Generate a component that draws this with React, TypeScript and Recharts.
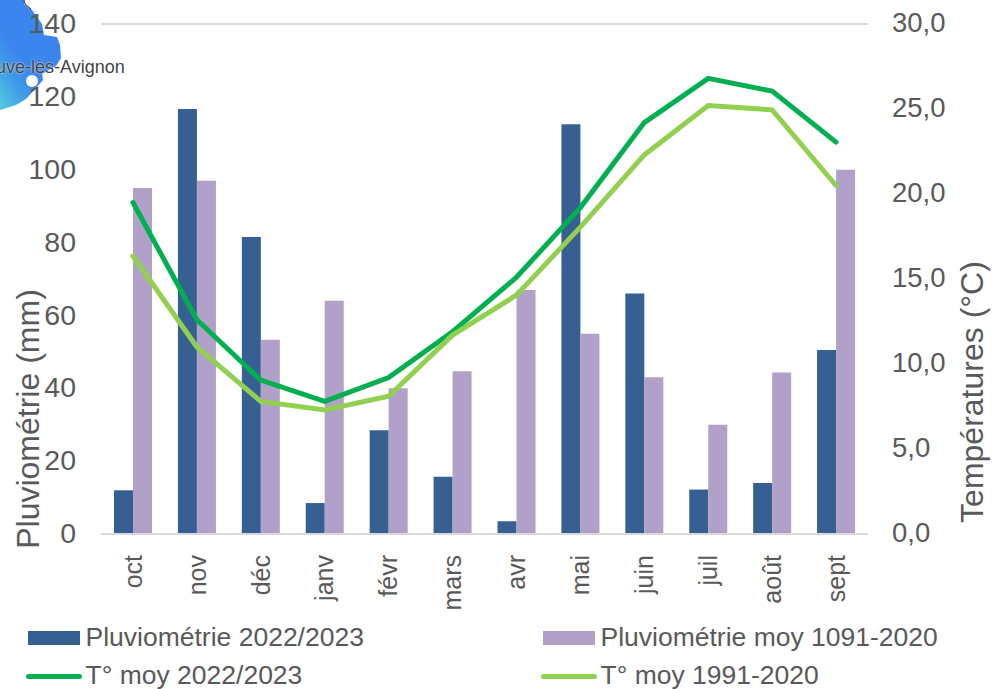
import React from 'react';
import { ComposedChart, Bar, Line, XAxis, YAxis, CartesianGrid, Legend, Label } from 'recharts';

const months = ['oct','nov','déc','janv','févr','mars','avr','mai','juin','juil','août','sept'];
const rain2223 = [12,116.7,81.5,8.5,28.5,15.7,3.5,112.5,66,12.2,14,50.5];
const rainAvg = [95,97,53.3,64,40,44.7,67,55,43,30,44.3,100];
const temp2223 = [19.5,12.6,9.05,7.8,9.2,11.9,15.1,19.2,24.2,26.8,26.05,23.05];
const tempAvg = [16.35,11,7.8,7.3,8.1,11.7,14.05,18.05,22.3,25.2,24.95,20.5];
const rainTicks = [0,20,40,60,80,100,120,140];
const tempTicks = [0,5,10,15,20,25,30];
const tempFormat = (v: number) => v.toFixed(1).replace('.', ',');

const names = ['Pluviométrie 2022/2023','Pluviométrie moy 1091-2020','T° moy 2022/2023','T° moy 1991-2020'];
const data = months.map((m, i) => ({ m, a: rain2223[i], b: rainAvg[i], c: temp2223[i], d: tempAvg[i] }));

const TXT = '#595959';
const FONT = '"Liberation Sans", Arial, sans-serif';
const C1 = '#376092', C2 = '#B1A0C7', C3 = '#00B050', C4 = '#92D050';

const LegendBox = () => {
  const items = [
    { x: 28, y: 637, c: C1, bar: true, n: names[0] },
    { x: 543, y: 637, c: C2, bar: true, n: names[1] },
    { x: 28, y: 675, c: C3, bar: false, n: names[2] },
    { x: 543, y: 675, c: C4, bar: false, n: names[3] },
  ];
  return (
    <div style={{ position: 'absolute', left: 0, top: 0, width: 992, height: 689, pointerEvents: 'none' }}>
      {items.map((it) => (
        <React.Fragment key={it.n}>
          <div style={{ position: 'absolute', left: it.bar ? it.x : it.x - 2, top: it.bar ? it.y - 6 : it.y - 1.5, width: it.bar ? 52 : 56, height: it.bar ? 14 : 5, background: it.c, borderRadius: it.bar ? 0 : 3 }} />
          <div style={{ position: 'absolute', left: it.x + 57.5, top: it.y - 13, height: 26, lineHeight: '26px', fontSize: 26.5, color: TXT, fontFamily: FONT, whiteSpace: 'nowrap' }}>{it.n}</div>
        </React.Fragment>
      ))}
    </div>
  );
};

export default function App() {
  return (
    <div style={{ position: 'absolute', left: 0, top: 0, width: 992, height: 689, overflow: 'hidden', background: '#fff' }}>
      <svg width={130} height={115} style={{ position: 'absolute', left: 0, top: 0 }}>
        <defs>
          <linearGradient id="blob" x1="0.75" y1="0.2" x2="0.1" y2="1">
            <stop offset="0.5" stopColor="#3A86EE" />
            <stop offset="0.72" stopColor="#3F9BE8" />
            <stop offset="1" stopColor="#4FC3E0" />
          </linearGradient>
        </defs>
        <path d="M0 0 L24 0 L24 4 L32 10 L37 17 L42 24 L44 35 L57 37 L60 45 L61 58 L56 66 L42 74 L43 80 L36 88 L26 99 L16 105 L0 110 Z" fill="url(#blob)" />
        <path d="M24 0 L25 4 L31 9" fill="none" stroke="#333" strokeWidth={1} />
        <circle cx={32} cy={81} r={6} fill="#fff" />
      </svg>
      <div style={{ position: 'absolute', left: -4, top: 58, fontSize: 18, lineHeight: '18px', color: '#444', fontFamily: FONT, whiteSpace: 'nowrap', textShadow: '0 0 2px #fff' }}>uve-lès-Avignon</div>
      <div style={{ position: 'absolute', left: 0, top: 0 }}>
        <ComposedChart width={992} height={689} data={data} margin={{ top: 24, right: 0, bottom: 55, left: 21 }} barSize={19} barGap={0} style={{ fontFamily: FONT }}>
          <CartesianGrid vertical={false} stroke="#D9D9D9" strokeWidth={2} />
          <XAxis dataKey="m" height={100} interval={0} axisLine={{ stroke: '#D9D9D9', strokeWidth: 2 }} tickLine={false} tickMargin={7}
            tick={{ angle: -90, textAnchor: 'end', fontSize: 25, fill: TXT, dy: 8, dx: -9 } as any} />
          <YAxis yAxisId="l" domain={[0,140]} ticks={rainTicks} width={80} axisLine={false} tickLine={false} tickMargin={19} tick={{ fontSize: 28.5, fill: TXT, dy: -1 }}>
            <Label value="Pluviométrie (mm)" angle={-90} position="center" dx={-33} dy={140} style={{ fontSize: 32, fill: TXT, textAnchor: 'middle' }} />
          </YAxis>
          <YAxis yAxisId="r" orientation="right" domain={[0,30]} ticks={tempTicks} tickFormatter={tempFormat} width={124} axisLine={false} tickLine={false} tickMargin={18} tick={{ fontSize: 27.5, fill: TXT, dy: -2 }}>
            <Label value="Températures (°C)" angle={-90} position="center" dx={42} dy={113} style={{ fontSize: 32, fill: TXT, textAnchor: 'middle' }} />
          </YAxis>
          <Bar yAxisId="l" dataKey="a" name={names[0]} fill={C1} isAnimationActive={false} />
          <Bar yAxisId="l" dataKey="b" name={names[1]} fill={C2} isAnimationActive={false} />
          <Line yAxisId="r" dataKey="c" name={names[2]} stroke={C3} strokeWidth={5} dot={false} strokeLinecap="round" isAnimationActive={false} />
          <Line yAxisId="r" dataKey="d" name={names[3]} stroke={C4} strokeWidth={5} dot={false} strokeLinecap="round" isAnimationActive={false} />
          <Legend content={() => <LegendBox />} wrapperStyle={{ left: 0, top: 0, bottom: 'auto', width: 992, height: 0 }} />
        </ComposedChart>
      </div>
    </div>
  );
}
